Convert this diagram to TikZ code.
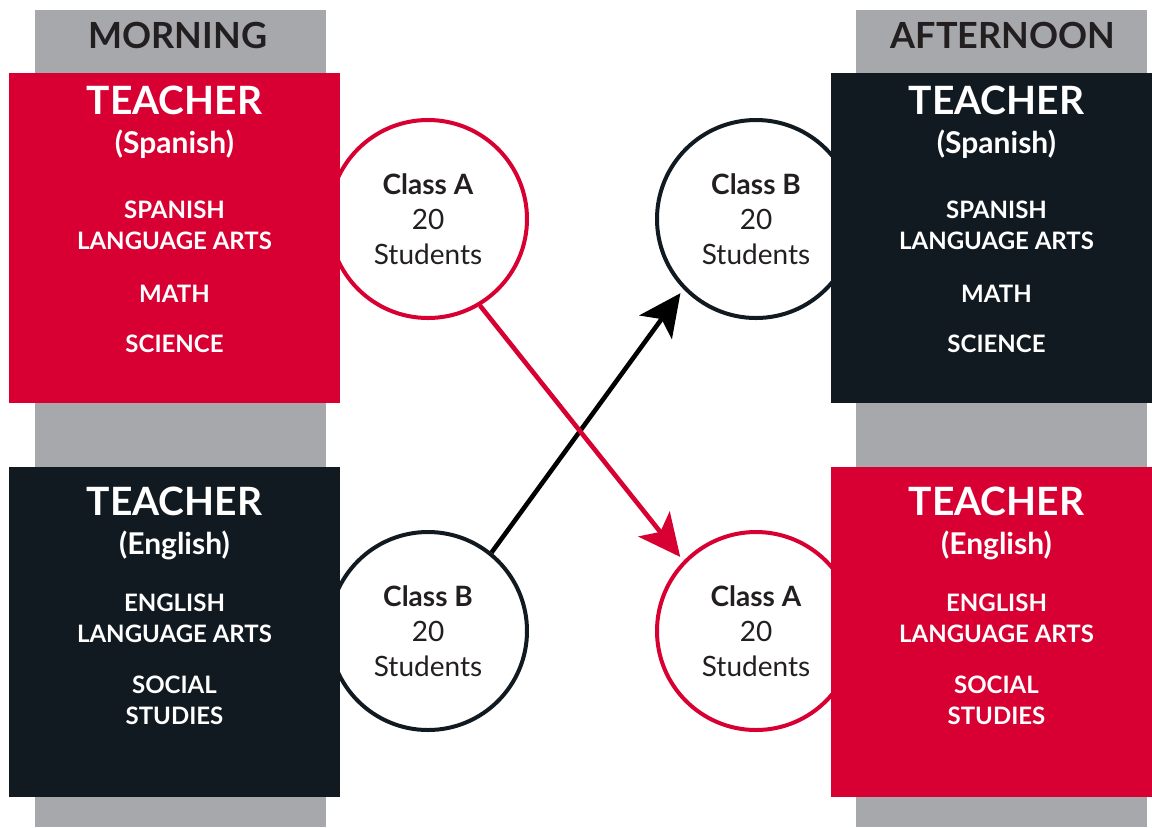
\documentclass[tikz,border=0pt]{standalone}
\usepackage{fontspec}
\setmainfont{Lato}
\usetikzlibrary{arrows.meta, positioning, calc}

\definecolor{schoolred}{HTML}{D80032}
\definecolor{schooldark}{HTML}{121A21}
\definecolor{schoolgray}{HTML}{A7A8AB}
\definecolor{inktext}{HTML}{231F20}

\begin{document}
\begin{tikzpicture}[
    % one unit = one pixel of the layout
    x=0.5pt, y=-0.5pt,
    % Styles
    band/.style={rectangle, fill=schoolgray, minimum width=145.5pt, minimum height=408.5pt, inner sep=0pt},
    bandlabel/.style={anchor=base, text=inktext, font=\bfseries\fontsize{18}{20}\selectfont},
    teacherbox/.style={rectangle, minimum width=165.5pt, minimum height=165pt, inner sep=0pt},
    boxtext/.style={align=center, inner sep=0pt, text=white, font=\bfseries\fontsize{12}{15.5}\selectfont},
    classnode/.style={circle, draw, line width=2pt, fill=white, minimum size=99pt, inner sep=0pt, align=center, text=inktext, font=\fontsize{14}{17.5}\selectfont},
    arrow/.style={-{Stealth[length=21pt, width=20pt, inset=5pt]}, line width=2.3pt, shorten >=2.5pt}
]
\useasboundingbox (0,0) rectangle (1152,827);
\fill[white] (0,0) rectangle (1152,827);

% --- Time of day bands ---
\node[band] (morning_band) at (180.5,418.5) {};
\node[band] (afternoon_band) at (1001.5,418.5) {};
\node[bandlabel] (morning) at (178,48) {MORNING};
\node[bandlabel] (afternoon) at (1003,48) {AFTERNOON};

% --- Classes (behind the teacher boxes) ---
\node[classnode, draw=schoolred] (class_a_am) at (428,219) {\textbf{Class A}\\20\\Students};
\node[classnode, draw=schooldark] (class_b_am) at (428,631) {\textbf{Class B}\\20\\Students};
\node[classnode, draw=schooldark] (class_b_pm) at (756,219) {\textbf{Class B}\\20\\Students};
\node[classnode, draw=schoolred] (class_a_pm) at (756,631) {\textbf{Class A}\\20\\Students};

% --- Morning teachers ---
\node[teacherbox, fill=schoolred] (spanish_am) at (174.5,238) {};
\node[boxtext, below=6.5pt of spanish_am.north] (spanish_am_text) {{\fontsize{19.5}{21}\selectfont TEACHER}\\[4pt]{\fontsize{15}{18}\selectfont (Spanish)}\\[17pt]SPANISH\\LANGUAGE ARTS\\[11pt]MATH\\[9.5pt]SCIENCE};

\node[teacherbox, fill=schooldark] (english_am) at (174.5,632) {};
\node[boxtext, below=10pt of english_am.north] (english_am_text) {{\fontsize{19.5}{21}\selectfont TEACHER}\\[4pt]{\fontsize{15}{18}\selectfont (English)}\\[13pt]ENGLISH\\LANGUAGE ARTS\\[10pt]SOCIAL\\STUDIES};

% --- Afternoon teachers ---
\node[teacherbox, fill=schooldark] (spanish_pm) at (996.5,238) {};
\node[boxtext, below=6.5pt of spanish_pm.north] (spanish_pm_text) {{\fontsize{19.5}{21}\selectfont TEACHER}\\[4pt]{\fontsize{15}{18}\selectfont (Spanish)}\\[17pt]SPANISH\\LANGUAGE ARTS\\[11pt]MATH\\[9.5pt]SCIENCE};

\node[teacherbox, fill=schoolred] (english_pm) at (996.5,632) {};
\node[boxtext, below=10pt of english_pm.north] (english_pm_text) {{\fontsize{19.5}{21}\selectfont TEACHER}\\[4pt]{\fontsize{15}{18}\selectfont (English)}\\[13pt]ENGLISH\\LANGUAGE ARTS\\[10pt]SOCIAL\\STUDIES};

% --- Class switches ---
\draw[arrow, black] (class_b_am.51) -- (class_b_pm.224);
\draw[arrow, schoolred] (class_a_am.-59) -- (class_a_pm.136);

\end{tikzpicture}
\end{document}
